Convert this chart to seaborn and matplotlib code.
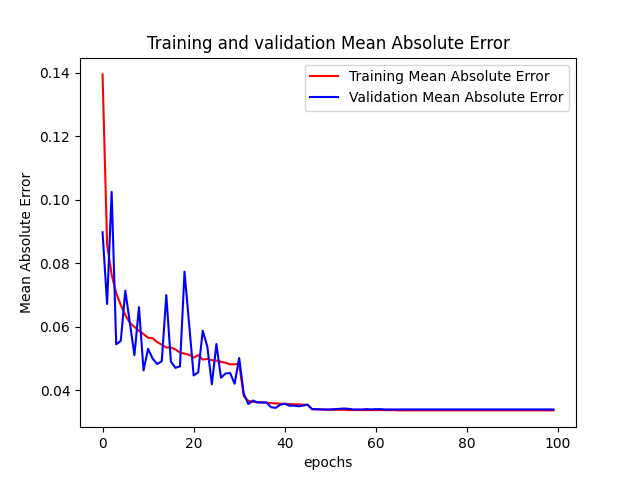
import matplotlib
matplotlib.use("Agg")
import matplotlib.pyplot as plt
import seaborn as sns
import numpy as np

train_mae = [0.1395, 0.0860, 0.0764, 0.0706, 0.0669, 0.0637, 0.0613, 0.0600, 0.0588, 0.0577,
             0.0566, 0.0564, 0.0552, 0.0544, 0.0535, 0.0535, 0.0529, 0.0519, 0.0516, 0.0512,
             0.0503, 0.0511, 0.0497, 0.0499, 0.0495, 0.0494, 0.0490, 0.0487, 0.0482, 0.0482,
             0.0484, 0.0382, 0.0367, 0.0364, 0.0363, 0.0362, 0.0361, 0.0360, 0.0359, 0.0358,
             0.0358, 0.0357, 0.0356, 0.0356, 0.0355, 0.0355, 0.0341, 0.0340, 0.0340, 0.0339,
             0.0339, 0.0339, 0.0339, 0.0339, 0.0338, 0.0338, 0.0338, 0.0338, 0.0338, 0.0338,
             0.0338, 0.0338, 0.0338, 0.0338, 0.0338, 0.0337, 0.0337, 0.0337, 0.0337, 0.0337,
             0.0337, 0.0337, 0.0337, 0.0337, 0.0337, 0.0337, 0.0337, 0.0337, 0.0337, 0.0337,
             0.0337, 0.0337, 0.0337, 0.0337, 0.0337, 0.0337, 0.0337, 0.0337, 0.0337, 0.0337,
             0.0337, 0.0337, 0.0337, 0.0337, 0.0337, 0.0337, 0.0337, 0.0337, 0.0337, 0.0337]

val_mae = [0.0898, 0.0672, 0.1025, 0.0545, 0.0556, 0.0714, 0.0612, 0.0511, 0.0662, 0.0463,
           0.0531, 0.0500, 0.0483, 0.0492, 0.0700, 0.0491, 0.0471, 0.0476, 0.0774, 0.0610,
           0.0447, 0.0457, 0.0588, 0.0538, 0.0419, 0.0546, 0.0440, 0.0453, 0.0455, 0.0421,
           0.0502, 0.0390, 0.0357, 0.0368, 0.0362, 0.0362, 0.0362, 0.0347, 0.0345, 0.0355,
           0.0358, 0.0352, 0.0352, 0.0350, 0.0352, 0.0355, 0.0341, 0.0341, 0.0340, 0.0340,
           0.0340, 0.0341, 0.0342, 0.0343, 0.0342, 0.0340, 0.0340, 0.0340, 0.0341, 0.0340,
           0.0341, 0.0341, 0.0340, 0.0340, 0.0340, 0.0340, 0.0340, 0.0340, 0.0340, 0.0340,
           0.0340, 0.0340, 0.0340, 0.0340, 0.0340, 0.0340, 0.0340, 0.0340, 0.0340, 0.0340,
           0.0340, 0.0340, 0.0340, 0.0340, 0.0340, 0.0340, 0.0340, 0.0340, 0.0340, 0.0340,
           0.0340, 0.0340, 0.0340, 0.0340, 0.0340, 0.0340, 0.0340, 0.0340, 0.0340, 0.0340]

epochs = list(range(len(train_mae)))

fig, ax = plt.subplots(figsize=(6.4, 4.8), dpi=100)
sns.lineplot(x=epochs, y=train_mae, color="red", label="Training Mean Absolute Error", ax=ax)
sns.lineplot(x=epochs, y=val_mae, color="blue", label="Validation Mean Absolute Error", ax=ax)
ax.set_title("Training and validation Mean Absolute Error")
ax.set_xlabel("epochs")
ax.set_ylabel("Mean Absolute Error")
ax.legend(loc="upper right")
fig.savefig("out.png", dpi=100)
